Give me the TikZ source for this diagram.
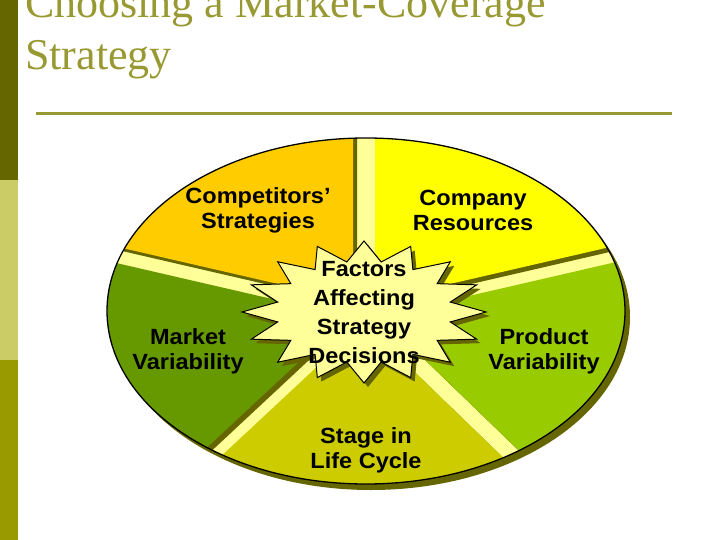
\documentclass[tikz,border=0pt]{standalone}
\usepackage{fontspec}
\newfontfamily\labfont{Liberation Sans}[FakeStretch=1.07]
\newfontfamily\titlefont{Liberation Serif}
\definecolor{barA}{HTML}{666600}
\definecolor{barB}{HTML}{CCCC66}
\definecolor{barC}{HTML}{999900}
\definecolor{olivec}{HTML}{999933}
\definecolor{shadowc}{HTML}{666600}
\definecolor{gapc}{HTML}{FFFF99}
\definecolor{segOrange}{HTML}{FFCC00}
\definecolor{segYellow}{HTML}{FFFF00}
\definecolor{segDark}{HTML}{669900}
\definecolor{segLight}{HTML}{99CC00}
\definecolor{segStage}{HTML}{CCCC00}
\newcommand\segpoly[4]{([shift={(#1+90:#3)}]#1:400) -- ([shift={(#1+90:#3)}]0,0) -- ([shift={(#2-90:#4)}]0,0) -- ([shift={(#2-90:#4)}]#2:400) -- ({(#1+#2)/2}:430) -- cycle}
\newcommand\starpath{(90:122 and 71) \foreach \k in {0,...,15} { -- ({90+\k*22.5}:122 and 71) -- ({101.25+\k*22.5}:88 and 51) } -- cycle}
\begin{document}
\begin{tikzpicture}[x=1pt,y=1pt,
  lab/.style={font=\labfont\bfseries\fontsize{22}{25}\selectfont, align=center, text=black, inner sep=0pt},
  starlab/.style={font=\labfont\bfseries\fontsize{22}{29}\selectfont, align=center, text=black, inner sep=0pt},
  titletext/.style={anchor=base west, text=olivec, font=\titlefont\fontsize{44}{52}\selectfont, inner sep=0pt}]
\useasboundingbox (0,0) rectangle (720,-540);
\clip (0,0) rectangle (720,-540);
% side bars
\fill[barA] (0,0) rectangle (18,-180);
\fill[barB] (0,-180) rectangle (18,-360);
\fill[barC] (0,-360) rectangle (18,-540);
% title
\node[titletext] (t1) at (25,-18) {Choosing a Market-Coverage};
\node[titletext] (t2) at (25,-70) {Strategy};
\draw[olivec, line width=3pt] (36,-114) -- (672,-114);
% ellipse
\fill[shadowc] (371,-317) ellipse [x radius=259pt, y radius=173pt];
\fill[gapc] (366,-311) ellipse [x radius=259pt, y radius=173pt];
\begin{scope}
  \clip (366,-311) ellipse [x radius=259pt, y radius=173pt];
  \begin{scope}[shift={(364,-312)}]
    \begin{scope}[shift={(4,-4)}]
      \fill[shadowc] \segpoly{13}{90}{8}{11};
      \fill[shadowc] \segpoly{90}{167}{11}{8};
      \fill[shadowc] \segpoly{167}{223}{8}{8};
      \fill[shadowc] \segpoly{223}{316}{8}{8};
      \fill[shadowc] \segpoly{316}{373}{8}{8};
    \end{scope}
    \fill[segYellow] \segpoly{13}{90}{8}{11};
    \fill[segOrange] \segpoly{90}{167}{11}{8};
    \fill[segDark] \segpoly{167}{223}{8}{8};
    \fill[segStage] \segpoly{223}{316}{8}{8};
    \fill[segLight] \segpoly{316}{373}{8}{8};
  \end{scope}
\end{scope}
\draw[black, line width=1.3pt] (366,-311) ellipse [x radius=259pt, y radius=173pt];
% star
\begin{scope}[shift={(368,-316)}]
  \fill[shadowc] \starpath;
\end{scope}
\begin{scope}[shift={(364,-312)}]
  \filldraw[fill=gapc, draw=black, line width=1pt] \starpath;
\end{scope}
% labels
\node[lab] (comp) at (258,-210) {Competitors’\\Strategies};
\node[lab] (res) at (473,-210) {Company\\Resources};
\node[lab] (mkt) at (188,-351) {Market\\Variability};
\node[lab] (prod) at (544,-351) {Product\\Variability};
\node[lab] (stage) at (366,-450) {Stage in\\Life Cycle};
\node[starlab] (factors) at (364,-313) {Factors\\Affecting\\Strategy\\Decisions};
\end{tikzpicture}
\end{document}
